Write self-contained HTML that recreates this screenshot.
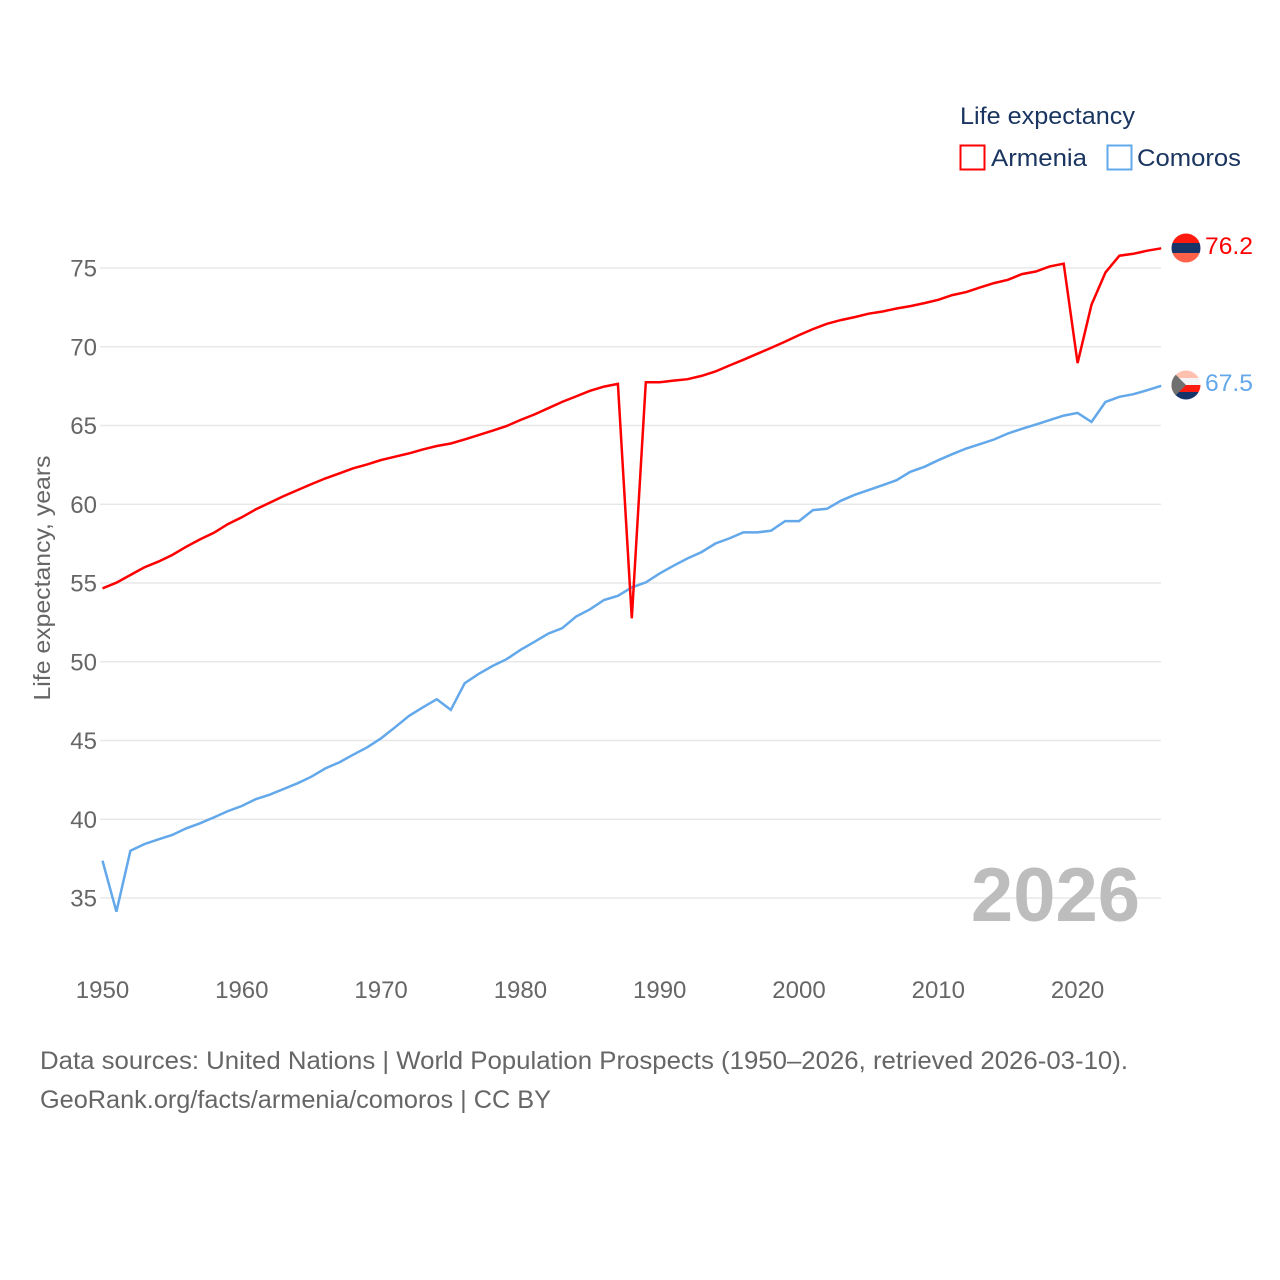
<!DOCTYPE html>
<html><head><meta charset="utf-8"><style>
body{margin:0;background:#fff;}
svg{display:block;font-family:"Liberation Sans",sans-serif;}
</style></head><body>
<svg id="chart" width="1280" height="1280" viewBox="0 0 1280 1280">
<g id="grid"></g>
<g id="yticks"></g>
<g id="xticks"></g>
<text x="50" y="578" transform="rotate(-90 50 578)" text-anchor="middle" font-size="23" textLength="245" lengthAdjust="spacingAndGlyphs" fill="#666">Life expectancy, years</text>
<text x="1140" y="921" text-anchor="end" font-size="76" font-weight="bold" fill="#bdbdbd">2026</text>
<g id="series"></g>
<g>
<text x="960" y="124" font-size="24" textLength="175" lengthAdjust="spacingAndGlyphs" fill="#1a3560">Life expectancy</text>
<rect x="960.5" y="145.5" width="24" height="24" fill="none" stroke="#ff0000" stroke-width="2"/>
<text x="991" y="166" font-size="24" textLength="96" lengthAdjust="spacingAndGlyphs" fill="#1a3560">Armenia</text>
<rect x="1107.5" y="145.5" width="24" height="24" fill="none" stroke="#62a8ea" stroke-width="2"/>
<text x="1137" y="166" font-size="24" textLength="104" lengthAdjust="spacingAndGlyphs" fill="#1a3560">Comoros</text>
</g>
<defs>
<clipPath id="c1"><circle cx="1186" cy="248" r="14.5"/></clipPath>
<clipPath id="c2"><circle cx="1186" cy="385" r="14.5"/></clipPath>
</defs>
<g clip-path="url(#c1)">
<rect x="1170" y="233" width="32" height="10" fill="#ff1a10"/>
<rect x="1170" y="243" width="32" height="10" fill="#173468"/>
<rect x="1170" y="253" width="32" height="11" fill="#ff6248"/>
</g>
<g clip-path="url(#c2)">
<rect x="1170" y="370" width="32" height="8" fill="#ffc0b0"/>
<rect x="1170" y="378" width="32" height="7" fill="#f4f4f4"/>
<rect x="1170" y="385" width="32" height="7" fill="#ff1a10"/>
<rect x="1170" y="392" width="32" height="9" fill="#173468"/>
<polygon points="1171,370 1186,385 1171,400" fill="#707070"/>
</g>
<text x="1205" y="254" font-size="24" textLength="48" lengthAdjust="spacingAndGlyphs" fill="#ff0000">76.2</text>
<text x="1205" y="391" font-size="24" textLength="48" lengthAdjust="spacingAndGlyphs" fill="#62a8ea">67.5</text>
<text x="40" y="1069" font-size="25" textLength="1088" lengthAdjust="spacingAndGlyphs" fill="#666">Data sources: United Nations | World Population Prospects (1950–2026, retrieved 2026-03-10).</text>
<text x="40" y="1108" font-size="25" textLength="511" lengthAdjust="spacingAndGlyphs" fill="#666">GeoRank.org/facts/armenia/comoros | CC BY</text>
</svg>
<script>
const startYear = 1950;
const xTickLabels = [1950,1960,1970,1980,1990,2000,2010,2020];
const yTickLabels = [35,40,45,50,55,60,65,70,75];
const armenia = [54.66,55.02,55.51,55.99,56.35,56.78,57.3,57.77,58.19,58.74,59.17,59.67,60.09,60.52,60.9,61.28,61.64,61.96,62.28,62.53,62.81,63.02,63.23,63.48,63.7,63.86,64.12,64.39,64.67,64.96,65.35,65.7,66.1,66.5,66.85,67.2,67.47,67.64,52.76,67.75,67.75,67.85,67.94,68.15,68.43,68.81,69.17,69.55,69.93,70.33,70.74,71.12,71.46,71.69,71.88,72.1,72.24,72.43,72.58,72.77,72.98,73.28,73.47,73.77,74.04,74.25,74.61,74.78,75.1,75.27,68.96,72.67,74.72,75.78,75.9,76.1,76.25];
const comoros = [37.37,34.13,38.0,38.42,38.72,39.0,39.42,39.74,40.12,40.52,40.84,41.27,41.56,41.92,42.28,42.7,43.23,43.61,44.1,44.57,45.14,45.84,46.56,47.11,47.62,46.94,48.64,49.23,49.73,50.16,50.75,51.26,51.79,52.13,52.87,53.33,53.92,54.19,54.72,55.04,55.61,56.1,56.56,56.96,57.51,57.83,58.21,58.21,58.32,58.93,58.93,59.63,59.71,60.22,60.6,60.9,61.21,61.53,62.06,62.38,62.8,63.18,63.54,63.82,64.11,64.49,64.79,65.06,65.34,65.63,65.8,65.23,66.5,66.82,66.99,67.24,67.52];
const NS='http://www.w3.org/2000/svg';
const x = y => 102.5 + (y - 1950) * 13.93;
const yv = v => 268 + (75 - v) * 15.75;
const grid=document.getElementById('grid'), yt=document.getElementById('yticks'), xt=document.getElementById('xticks'), ser=document.getElementById('series');
yTickLabels.forEach(v=>{
  const l=document.createElementNS(NS,'line');
  l.setAttribute('x1',100);l.setAttribute('x2',1161);l.setAttribute('y1',yv(v));l.setAttribute('y2',yv(v));
  l.setAttribute('stroke','#e8e8e8');l.setAttribute('stroke-width','1.5');
  
  
  grid.appendChild(l);
  const t=document.createElementNS(NS,'text');
  t.setAttribute('x',97);t.setAttribute('y',yv(v)+8.5);t.setAttribute('text-anchor','end');
  t.setAttribute('font-size','24');t.setAttribute('fill','#666');t.textContent=v;
  
  
  yt.appendChild(t);
});
xTickLabels.forEach(v=>{
  const t=document.createElementNS(NS,'text');
  t.setAttribute('x',x(v));t.setAttribute('y',998);t.setAttribute('text-anchor','middle');
  t.setAttribute('font-size','24');t.setAttribute('fill','#666');t.textContent=v;
  
  
  xt.appendChild(t);
});
function drawLine(data,color,name){
  const p=document.createElementNS(NS,'polyline');
  p.setAttribute('points',data.map((v,i)=>x(startYear+i).toFixed(1)+','+yv(v).toFixed(1)).join(' '));
  p.setAttribute('fill','none');p.setAttribute('stroke',color);p.setAttribute('stroke-width','2.5');p.setAttribute('stroke-linejoin','miter');
  
  
  ser.appendChild(p);
}
drawLine(comoros,'#62a8ea','line-comoros');
drawLine(armenia,'#ff0000','line-armenia');
</script>
</body></html>
